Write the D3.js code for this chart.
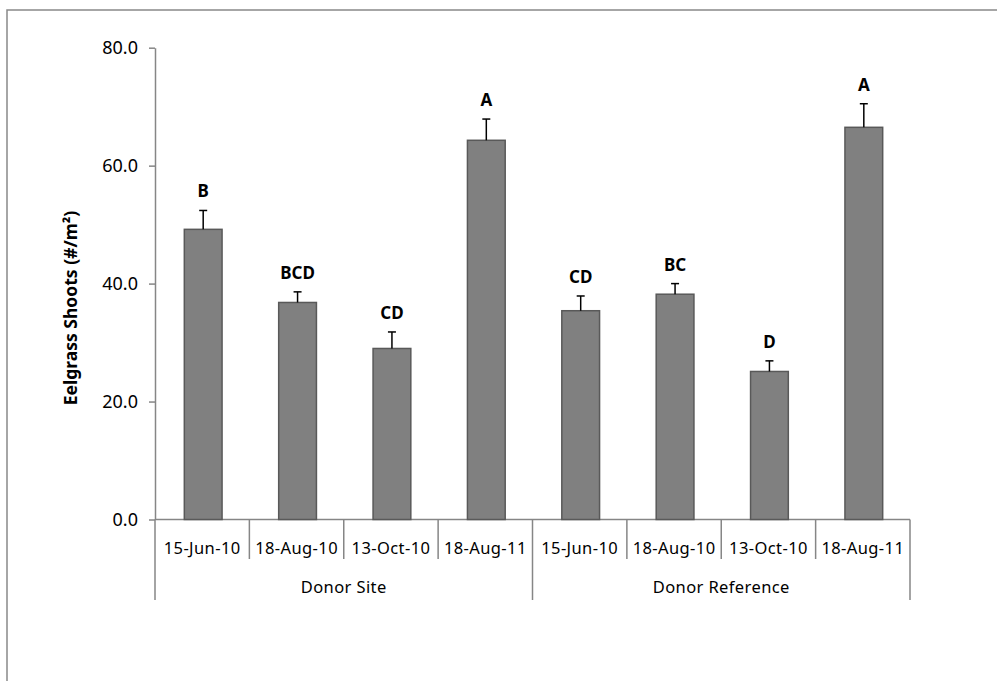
<!DOCTYPE html>
<html lang="en">
<head>
<meta charset="UTF-8">
<title>Eelgrass Shoots</title>
<script src="https://d3js.org/d3.v7.min.js"></script>
<style>
  body { margin: 0; background: #fff; }
  svg { display: block; }
  text { font-family: "Noto Sans", "DejaVu Sans", sans-serif; fill: #000; }
  .axis path, .axis line { stroke: #868686; stroke-width: 1.5px; }
  .axis text { font-size: 18px; }
  .bar { fill: #808080; stroke: #595959; stroke-width: 1.5px; }
  .err { stroke: #000; stroke-width: 1.5px; fill: none; }
  .sig { font-size: 17px; font-weight: bold; text-anchor: middle; }
  .cat { font-size: 16.5px; text-anchor: middle; letter-spacing: 0.4px; }
</style>
</head>
<body>
<div id="chart"></div>
<script>
// data
var groups = ["Donor Site", "Donor Reference"];
var dates = ["15-Jun-10", "18-Aug-10", "13-Oct-10", "18-Aug-11"];
var means = [49.2, 36.8, 29.0, 64.3, 35.4, 38.2, 25.1, 66.5];
var errors = [3.2, 1.8, 2.8, 3.6, 2.5, 1.8, 1.8, 4.0];
var letters = ["B", "BCD", "CD", "A", "CD", "BC", "D", "A"];
var yTicks = [0, 20, 40, 60, 80];

var width = 997, height = 681;

// build rows: one per bar
var rows = [];
groups.forEach(function(g, gi) {
  dates.forEach(function(d, di) {
    var i = gi * dates.length + di;
    rows.push({key: g + "|" + d, group: g, date: d, mean: means[i], err: errors[i], letter: letters[i]});
  });
});

var svg = d3.select("#chart").append("svg")
  .attr("width", width).attr("height", height);

// outer chart frame (runs off the bottom/right edge)
svg.append("rect")
  .attr("x", 7).attr("y", 10)
  .attr("width", 1000).attr("height", 700)
  .attr("fill", "none").attr("stroke", "#898989").attr("stroke-width", 1.5);

var x = d3.scaleBand()
  .domain(rows.map(function(r) { return r.key; }))
  .range([155, 910])
  .padding(0);

var y = d3.scaleLinear().domain([0, 80]).range([519.5, 47.7]);

var barW = x.bandwidth() * 0.4;

// y axis
var yAxis = svg.append("g")
  .attr("class", "axis")
  .attr("transform", "translate(155,0)")
  .call(d3.axisLeft(y).tickValues(yTicks).tickFormat(d3.format(".1f"))
    .tickSize(6).tickSizeOuter(0).tickPadding(11));

// x axis baseline
svg.append("line")
  .attr("class", "axis")
  .attr("x1", 155).attr("x2", 910)
  .attr("y1", y(0)).attr("y2", y(0))
  .attr("stroke", "#868686").attr("stroke-width", 1.5);

// category divider ticks
var bounds = d3.range(rows.length + 1);
svg.append("g").selectAll("line")
  .data(bounds)
  .enter().append("line")
  .attr("x1", function(i) { return 155 + i * x.step(); })
  .attr("x2", function(i) { return 155 + i * x.step(); })
  .attr("y1", y(0))
  .attr("y2", function(i) { return (i % dates.length === 0) ? 600 : 559; })
  .attr("stroke", "#868686").attr("stroke-width", 1.5);

// date labels
svg.append("g").selectAll("text")
  .data(rows)
  .enter().append("text")
  .attr("class", "cat")
  .attr("x", function(r) { return x(r.key) + x.bandwidth() / 2; })
  .attr("y", 554)
  .text(function(r) { return r.date; });

// group labels
svg.append("g").selectAll("text")
  .data(groups)
  .enter().append("text")
  .attr("class", "cat")
  .attr("x", function(g, gi) {
    var first = x(g + "|" + dates[0]);
    return first + x.step() * dates.length / 2;
  })
  .attr("y", 593)
  .text(function(g) { return g; });

// bars
svg.append("g").selectAll("rect")
  .data(rows)
  .enter().append("rect")
  .attr("class", "bar")
  .attr("x", function(r) { return x(r.key) + (x.bandwidth() - barW) / 2 + 1; })
  .attr("width", barW)
  .attr("y", function(r) { return y(r.mean); })
  .attr("height", function(r) { return y(0) - y(r.mean); });

// error bars (upper only)
var eb = svg.append("g").selectAll("g")
  .data(rows)
  .enter().append("g");
eb.append("line")
  .attr("class", "err")
  .attr("x1", function(r) { return x(r.key) + x.bandwidth() / 2 + 1; })
  .attr("x2", function(r) { return x(r.key) + x.bandwidth() / 2 + 1; })
  .attr("y1", function(r) { return y(r.mean); })
  .attr("y2", function(r) { return y(r.mean + r.err); });
eb.append("line")
  .attr("class", "err")
  .attr("x1", function(r) { return x(r.key) + x.bandwidth() / 2 + 1 - 4; })
  .attr("x2", function(r) { return x(r.key) + x.bandwidth() / 2 + 1 + 4; })
  .attr("y1", function(r) { return y(r.mean + r.err); })
  .attr("y2", function(r) { return y(r.mean + r.err); });

// significance letters
svg.append("g").selectAll("text")
  .data(rows)
  .enter().append("text")
  .attr("class", "sig")
  .attr("x", function(r) { return x(r.key) + x.bandwidth() / 2 + 1; })
  .attr("y", function(r) { return y(r.mean + r.err) - 13; })
  .text(function(r) { return r.letter; });

// y axis title
svg.append("text")
  .attr("transform", "translate(77,308) rotate(-90)")
  .attr("text-anchor", "middle")
  .style("font-size", "17.5px")
  .style("font-weight", "bold")
  .text("Eelgrass Shoots (#/m²)");
</script>
</body>
</html>
